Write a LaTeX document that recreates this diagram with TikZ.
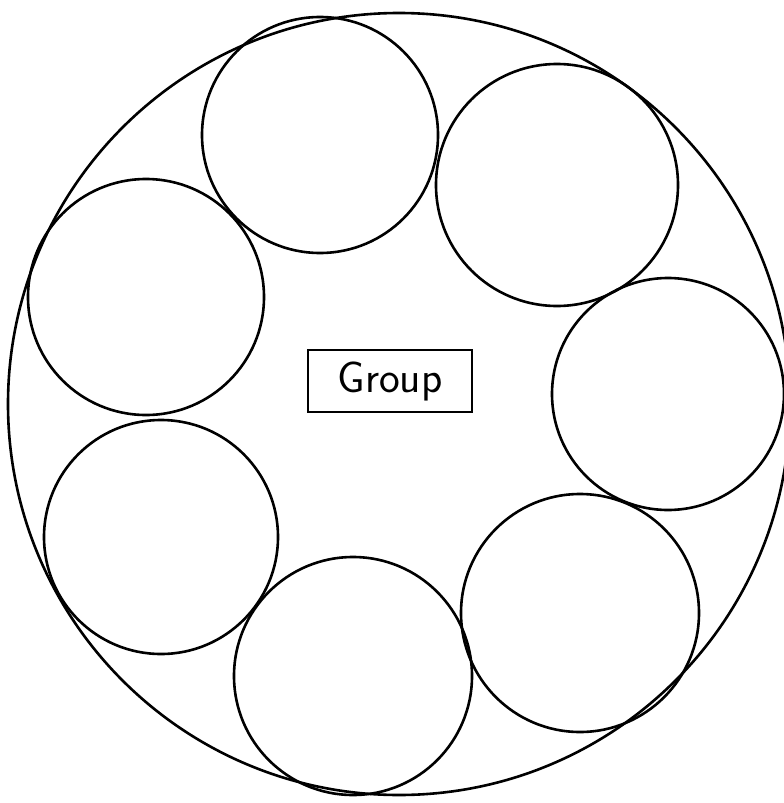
\documentclass[tikz,border=0pt]{standalone}
\usepackage{tikz}
\usetikzlibrary{positioning}
\tikzset{
  outer/.style ={circle,draw=black,line width=1.3pt,minimum size=391pt,inner sep=0pt},
  member/.style={circle,draw=black,line width=1.3pt,minimum size=118pt,inner sep=0pt},
  label/.style ={rectangle,draw=black,line width=1.3pt,minimum width=82pt,minimum height=31pt,
                 font=\sffamily\fontsize{22}{26}\selectfont}
}
\begin{document}
\begin{tikzpicture}[x=0.5pt,y=-0.5pt]
  \useasboundingbox (0,0) rectangle (783,803);
  \node[outer] (grp) at (399,404) {};
  \node[member] (m1) at (320,135) {};
  \node[member,minimum size=121pt] (m2) at (557,185) {};
  \node[member,minimum size=116pt] (m3) at (668,394) {};
  \node[member,minimum size=119pt] (m4) at (580,613) {};
  \node[member,minimum size=119pt] (m5) at (353,676) {};
  \node[member,minimum size=117pt] (m6) at (161,537) {};
  \node[member] (m7) at (146,297) {};
  \node[label] (name) at (390,381) {Group};
\end{tikzpicture}
\end{document}
